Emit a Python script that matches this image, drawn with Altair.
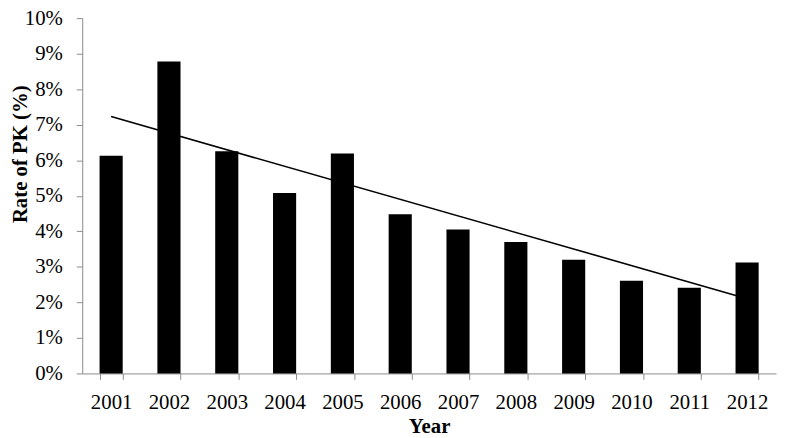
import altair as alt
import pandas as pd

years = list(range(2001, 2013))
rates = [6.13, 8.78, 6.25, 5.08, 6.19, 4.48, 4.05, 3.70, 3.20, 2.61, 2.41, 3.12]
y_ticks = list(range(0, 11))

df = pd.DataFrame({"year": years, "rate": rates})

FONT = "Liberation Serif"
GRAY = "#8c8c8c"

x_enc = alt.X(
    "year:O",
    title="Year",
    scale=alt.Scale(paddingInner=0.6, paddingOuter=0.3),
    axis=alt.Axis(
        labelAngle=0,
        tickBand="extent",
        tickSize=6,
        tickColor=GRAY,
        domainColor=GRAY,
        labelFont=FONT,
        labelFontSize=21,
        labelColor="black",
        labelBaseline="alphabetic",
        labelPadding=29,
        titleFont=FONT,
        titleFontSize=21,
        titleFontWeight="bold",
        titleColor="black",
        titleBaseline="alphabetic",
        titleY=60,
        grid=False,
    ),
)

y_enc = alt.Y(
    "rate:Q",
    title="Rate of PK (%)",
    scale=alt.Scale(domain=[0, 10], nice=False),
    axis=alt.Axis(
        values=y_ticks,
        labelExpr="datum.value + '%'",
        tickSize=6,
        tickColor=GRAY,
        domainColor=GRAY,
        labelFont=FONT,
        labelFontSize=21,
        labelColor="black",
        labelPadding=14,
        titleFont=FONT,
        titleFontSize=21,
        titleFontWeight="bold",
        titleColor="black",
        titleX=-52,
        titleY=137,
        grid=False,
    ),
)

base = alt.Chart(df)

bars = base.mark_bar(color="black").encode(x=x_enc, y=y_enc)

trend = (
    base.transform_regression("year", "rate")
    .mark_line(color="black", strokeWidth=1.6)
    .encode(x=x_enc, y=y_enc)
)

chart = (
    alt.layer(bars, trend)
    .properties(
        width=701,
        height=359,
        padding={"left": 75, "top": 8, "right": 1, "bottom": 63},
        autosize="none",
    )
    .configure_view(stroke=None)
)

chart.save("out.html", embed_options={"renderer": "svg", "actions": False})
